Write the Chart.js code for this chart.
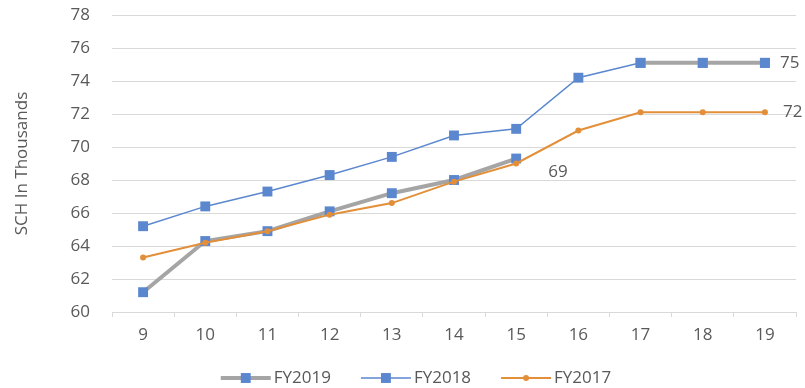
<!DOCTYPE html>
<html>
<head>
<meta charset="utf-8">
<script src="https://cdn.jsdelivr.net/npm/chart.js@4/dist/chart.umd.min.js"></script>
<style>
  html, body { margin: 0; padding: 0; background: #ffffff; }
  #wrap { width: 805px; height: 388px; position: relative; }
</style>
</head>
<body>
<div id="wrap"><canvas id="chart" width="805" height="388"></canvas></div>
<script>
// Weeks along the x axis
const categories = ['9', '10', '11', '12', '13', '14', '15', '16', '17', '18', '19'];

// SCH (thousands) per fiscal year
const fy2019 = [61.2, 64.3, 64.9, 66.1, 67.2, 68.0, 69.3, null, 75.1, 75.1, 75.1];
const fy2018 = [65.2, 66.4, 67.3, 68.3, 69.4, 70.7, 71.1, 74.2, 75.1, 75.1, 75.1];
const fy2017 = [63.3, 64.2, 64.9, 65.9, 66.6, 67.9, 69.0, 71.0, 72.1, 72.1, 72.1];

// Y axis range
const yMin = 60;
const yMax = 78;
const yStep = 2;

const seriesNames = ['FY2019', 'FY2018', 'FY2017'];

const TEXT = '#595959';
const GRID = '#D9D9D9';
const BLUE = '#5B87CF';
const GREY = '#A5A5A5';
const ORANGE = '#E38F3A';
const FONT = "'Open Sans', 'Liberation Sans', sans-serif";
const FS = 17;

// Value labels: [datasetIndex, pointIndex, dx, dy]
const valueLabels = [
  [0, 6, 32, 14],
  [0, 10, 15, 0],
  [2, 10, 18, 0]
];

const valueLabelPlugin = {
  id: 'valueLabels',
  afterDatasetsDraw(chart) {
    const ctx = chart.ctx;
    ctx.save();
    ctx.font = FS + 'px ' + FONT;
    ctx.fillStyle = TEXT;
    ctx.textAlign = 'left';
    ctx.textBaseline = 'middle';
    valueLabels.forEach(([di, pi, dx, dy]) => {
      const meta = chart.getDatasetMeta(di);
      const el = meta.data[pi];
      const v = chart.data.datasets[di].data[pi];
      if (!el || v == null) return;
      ctx.fillText(String(Math.round(v)), el.x + dx, el.y + dy);
    });
    ctx.restore();
  }
};

// Legend drawn as line samples with markers, in dataset order
const lineLegendPlugin = {
  id: 'lineLegend',
  afterDraw(chart) {
    const ctx = chart.ctx;
    const sampleW = 50, gapText = 3, itemGap = 30, centerX = 416, y = 378;
    ctx.save();
    ctx.font = FS + 'px ' + FONT;
    ctx.textBaseline = 'middle';
    const ds = chart.data.datasets;
    const widths = ds.map(d => sampleW + gapText + ctx.measureText(d.label).width);
    const total = widths.reduce((a, b) => a + b, 0) + itemGap * (ds.length - 1);
    let x = centerX - total / 2;
    ds.forEach((d, i) => {
      ctx.strokeStyle = d.borderColor;
      ctx.lineWidth = d.borderWidth;
      ctx.beginPath();
      ctx.moveTo(x, y);
      ctx.lineTo(x + sampleW, y);
      ctx.stroke();
      const cx = x + sampleW / 2;
      ctx.fillStyle = d.pointBackgroundColor;
      if (d.pointStyle === 'rect') {
        const s = Math.SQRT1_2 * d.pointRadius;
        ctx.fillRect(cx - s, y - s, 2 * s, 2 * s);
      } else {
        ctx.beginPath();
        ctx.arc(cx, y, d.pointRadius, 0, Math.PI * 2);
        ctx.fill();
      }
      ctx.fillStyle = TEXT;
      ctx.textAlign = 'left';
      ctx.fillText(d.label, x + sampleW + gapText, y);
      x += widths[i] + itemGap;
    });
    ctx.restore();
  }
};

new Chart(document.getElementById('chart'), {
  type: 'line',
  data: {
    labels: categories,
    datasets: [
      {
        label: seriesNames[0],
        data: fy2019,
        order: 1,
        borderColor: GREY,
        borderWidth: 4,
        pointStyle: 'rect',
        pointRadius: 7,
        pointBackgroundColor: BLUE,
        pointBorderColor: BLUE,
        pointBorderWidth: 0,
        spanGaps: false,
        tension: 0
      },
      {
        label: seriesNames[1],
        data: fy2018,
        order: 2,
        borderColor: BLUE,
        borderWidth: 1.5,
        pointStyle: 'rect',
        pointRadius: 7,
        pointBackgroundColor: BLUE,
        pointBorderColor: BLUE,
        pointBorderWidth: 0,
        tension: 0
      },
      {
        label: seriesNames[2],
        data: fy2017,
        order: 0,
        borderColor: ORANGE,
        borderWidth: 2,
        pointStyle: 'circle',
        pointRadius: 3,
        pointBackgroundColor: ORANGE,
        pointBorderColor: ORANGE,
        pointBorderWidth: 0,
        tension: 0
      }
    ]
  },
  options: {
    responsive: false,
    animation: false,
    layout: { padding: { top: 15, right: 9, left: 0, bottom: 32 } },
    plugins: {
      legend: { display: false },
      tooltip: { enabled: false },
      title: { display: false }
    },
    scales: {
      x: {
        type: 'category',
        offset: true,
        grid: {
          display: true,
          offset: true,
          drawOnChartArea: false,
          drawTicks: true,
          tickLength: 5,
          color: GRID
        },
        border: { display: true, color: GRID },
        ticks: {
          color: TEXT,
          font: { family: FONT, size: FS },
          padding: 8,
          maxRotation: 0,
          autoSkip: false
        },
        afterFit(scale) { scale.height = 44; }
      },
      y: {
        min: yMin,
        max: yMax,
        grid: { color: GRID, drawTicks: false, lineWidth: 1 },
        border: { display: false },
        ticks: {
          stepSize: yStep,
          color: TEXT,
          font: { family: FONT, size: FS },
          padding: 22
        },
        title: {
          display: true,
          text: 'SCH In Thousands',
          color: TEXT,
          font: { family: FONT, size: FS },
          padding: { top: 12, bottom: 0 }
        },
        afterFit(scale) {
          scale.width = 112;
          scale.paddingTop = 0;
          scale.paddingBottom = 0;
        }
      }
    }
  },
  plugins: [valueLabelPlugin, lineLegendPlugin]
});
</script>
</body>
</html>
